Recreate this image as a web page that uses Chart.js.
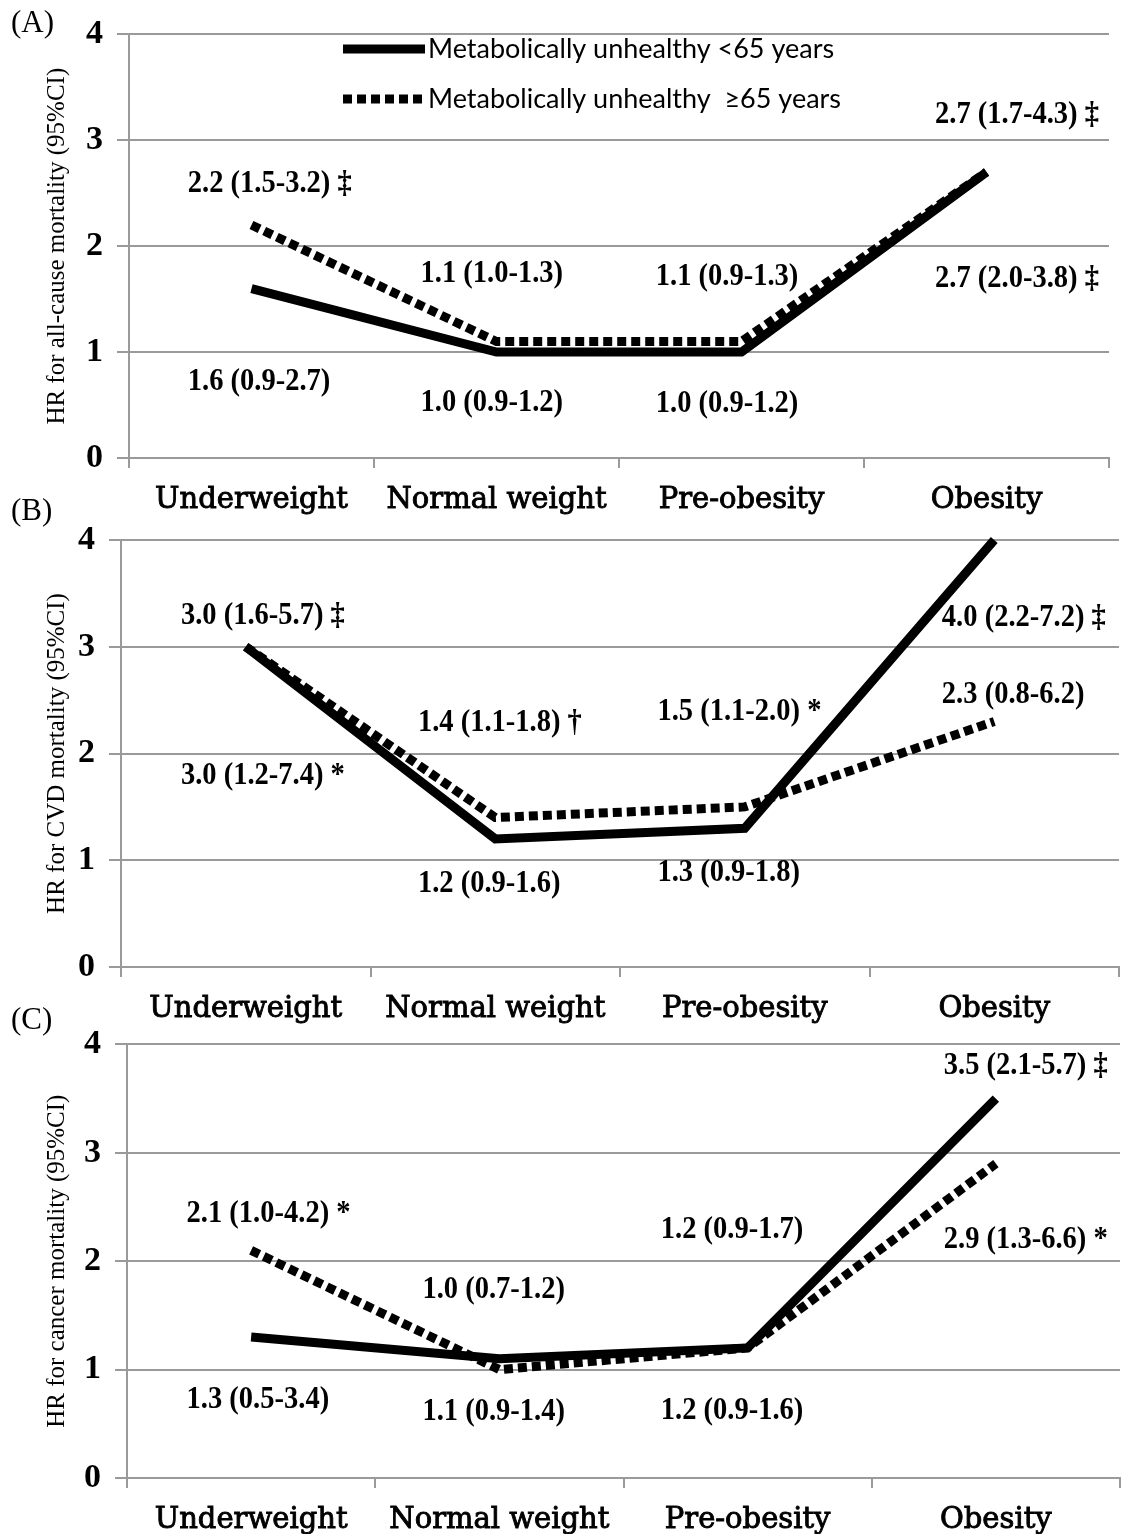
<!DOCTYPE html>
<html>
<head>
<meta charset="utf-8">
<script src="https://cdn.jsdelivr.net/npm/chart.js@4.4.1/dist/chart.umd.min.js"></script>
<style>
  body { margin: 0; background: #fff; width: 1126px; height: 1534px; position: relative; overflow: hidden; }
  canvas { position: absolute; left: 0; }
  .tag { position: absolute; left: 11px; font: 31px "Liberation Serif", serif; color: #000; }
</style>
</head>
<body>
<canvas id="chartA" width="1126" height="525" style="top:0px"></canvas>
<canvas id="chartB" width="1126" height="530" style="top:500px"></canvas>
<canvas id="chartC" width="1126" height="524" style="top:1010px"></canvas>
<div class="tag" style="top:4px">(A)</div>
<div class="tag" style="top:492px">(B)</div>
<div class="tag" style="top:1001px">(C)</div>

<script>
// categories and tick values
const categories = ['Underweight', 'Normal weight', 'Pre-obesity', 'Obesity'];
const yTicks = [0, 1, 2, 3, 4];

// hazard ratios, metabolically unhealthy <65 and >=65 years
const allCauseUnder65 = [1.6, 1.0, 1.0, 2.7];
const allCauseOver65 = [2.2, 1.1, 1.1, 2.7];
const cvdUnder65 = [3.0, 1.2, 1.3, 4.0];
const cvdOver65 = [3.0, 1.4, 1.5, 2.3];
const cancerUnder65 = [1.3, 1.1, 1.2, 3.5];
const cancerOver65 = [2.1, 1.0, 1.2, 2.9];

// HR (95%CI) annotations: [text, category index, value where the text sits]
const allCauseNotes = [
    ['2.2 (1.5-3.2) ‡', 0, 2.59], ['1.6 (0.9-2.7)', 0, 0.72],
    ['1.1 (1.0-1.3)', 1, 1.74], ['1.0 (0.9-1.2)', 1, 0.52],
    ['1.1 (0.9-1.3)', 2, 1.71], ['1.0 (0.9-1.2)', 2, 0.51],
    ['2.7 (1.7-4.3) ‡', 3, 3.24], ['2.7 (2.0-3.8) ‡', 3, 1.69]
];
const cvdNotes = [
    ['3.0 (1.6-5.7) ‡', 0, 3.29], ['3.0 (1.2-7.4) *', 0, 1.79],
    ['1.4 (1.1-1.8) †', 1, 2.29], ['1.2 (0.9-1.6)', 1, 0.78],
    ['1.5 (1.1-2.0) *', 2, 2.39], ['1.3 (0.9-1.8)', 2, 0.88],
    ['4.0 (2.2-7.2) ‡', 3, 3.27], ['2.3 (0.8-6.2)', 3, 2.55]
];
const cancerNotes = [
    ['2.1 (1.0-4.2) *', 0, 2.44], ['1.3 (0.5-3.4)', 0, 0.72],
    ['1.0 (0.7-1.2)', 1, 1.73], ['1.1 (0.9-1.4)', 1, 0.61],
    ['1.2 (0.9-1.7)', 2, 2.29], ['1.2 (0.9-1.6)', 2, 0.62],
    ['3.5 (2.1-5.7) ‡', 3, 3.80], ['2.9 (1.3-6.6) *', 3, 2.20]
];

const legendLabels = ['Metabolically unhealthy <65 years', 'Metabolically unhealthy  \u226565 years'];

// left edge of each note, relative to the category centre (in category widths)
const noteShift = [-0.26, -0.31, -0.35, -0.21];

const GRID = '#9a9a9a';
const DASH = [9, 5];

const notesPlugin = {
    id: 'notes',
    afterDatasetsDraw(chart, args, opts) {
        const ctx = chart.ctx;
        const xs = chart.scales.x, ys = chart.scales.y;
        const catW = xs.width / categories.length;
        const squeeze = 0.92;
        ctx.save();
        ctx.fillStyle = '#000';
        ctx.font = 'bold 31px "Liberation Serif"';
        ctx.textAlign = 'left';
        ctx.textBaseline = 'middle';
        ctx.scale(squeeze, 1);
        opts.items.forEach(([txt, i, v]) => {
            const x = xs.getPixelForValue(i) + noteShift[i] * catW;
            ctx.fillText(txt, x / squeeze, ys.getPixelForValue(v));
        });
        ctx.restore();

        if (opts.legend) {
            ctx.save();
            ctx.strokeStyle = '#000';
            ctx.lineWidth = 9;
            ctx.lineCap = 'butt';
            ctx.font = '27px Lato';
            ctx.fillStyle = '#000';
            ctx.textBaseline = 'middle';
            [49, 99].forEach((y, k) => {
                ctx.setLineDash(k === 0 ? [] : DASH);
                ctx.beginPath();
                ctx.moveTo(343, y);
                ctx.lineTo(425, y);
                ctx.stroke();
                ctx.fillText(legendLabels[k], 428, y);
            });
            ctx.restore();
        }
    }
};

function makePanel(id, under, over, notes, title, box, legend) {
    const ctx = document.getElementById(id).getContext('2d');
    const H = ctx.canvas.height;
    return new Chart(ctx, {
        type: 'line',
        data: {
            labels: categories,
            datasets: [
                {
                    label: legendLabels[1], data: over, order: 1,
                    borderColor: '#000', borderWidth: 9, borderDash: DASH,
                    borderCapStyle: 'butt', borderJoinStyle: 'miter',
                    pointRadius: 0, tension: 0, fill: false, clip: 12
                },
                {
                    label: legendLabels[0], data: under, order: 2,
                    borderColor: '#000', borderWidth: 9,
                    borderCapStyle: 'butt', borderJoinStyle: 'miter',
                    pointRadius: 0, tension: 0, fill: false, clip: 12
                }
            ]
        },
        options: {
            responsive: false,
            animation: false,
            layout: { padding: { left: 0, top: box.top, right: 1126 - box.right, bottom: 0 } },
            plugins: {
                legend: { display: false },
                tooltip: { enabled: false },
                notes: { items: notes, legend: legend }
            },
            scales: {
                x: {
                    offset: true,
                    grid: { drawOnChartArea: false, offset: true, color: GRID, lineWidth: 2, tickLength: 10 },
                    border: { color: GRID, width: 2 },
                    ticks: {
                        color: '#000', font: { family: 'DejaVu Serif', size: 29 }, padding: 15, maxRotation: 0,
                        textStrokeColor: '#000', textStrokeWidth: 0.9
                    },
                    afterFit: s => { s.height = H - box.bottom; }
                },
                y: {
                    min: yTicks[0], max: yTicks[yTicks.length - 1],
                    afterBuildTicks: s => { s.ticks = yTicks.map(v => ({ value: v })); },
                    grid: { color: GRID, lineWidth: 2, tickLength: 12 },
                    border: { color: GRID, width: 2 },
                    ticks: { color: '#000', font: { family: 'Liberation Serif', size: 34, weight: 'bold' }, padding: 14 },
                    title: {
                        display: true, text: title, color: '#000',
                        font: { family: 'Liberation Serif', size: 25 },
                        padding: { top: 42, bottom: 0 }
                    },
                    afterFit: s => { s.width = box.left; }
                }
            }
        },
        plugins: [notesPlugin]
    });
}

makePanel('chartA', allCauseUnder65, allCauseOver65, allCauseNotes,
    'HR for all-cause mortality (95%CI)', { left: 129, right: 1109, top: 33, bottom: 458 }, true);
makePanel('chartB', cvdUnder65, cvdOver65, cvdNotes,
    'HR for CVD mortality (95%CI)', { left: 121, right: 1119, top: 40, bottom: 467 }, false);
makePanel('chartC', cancerUnder65, cancerOver65, cancerNotes,
    'HR for cancer mortality (95%CI)', { left: 127, right: 1120, top: 32, bottom: 468 }, false);
</script>
</body>
</html>
